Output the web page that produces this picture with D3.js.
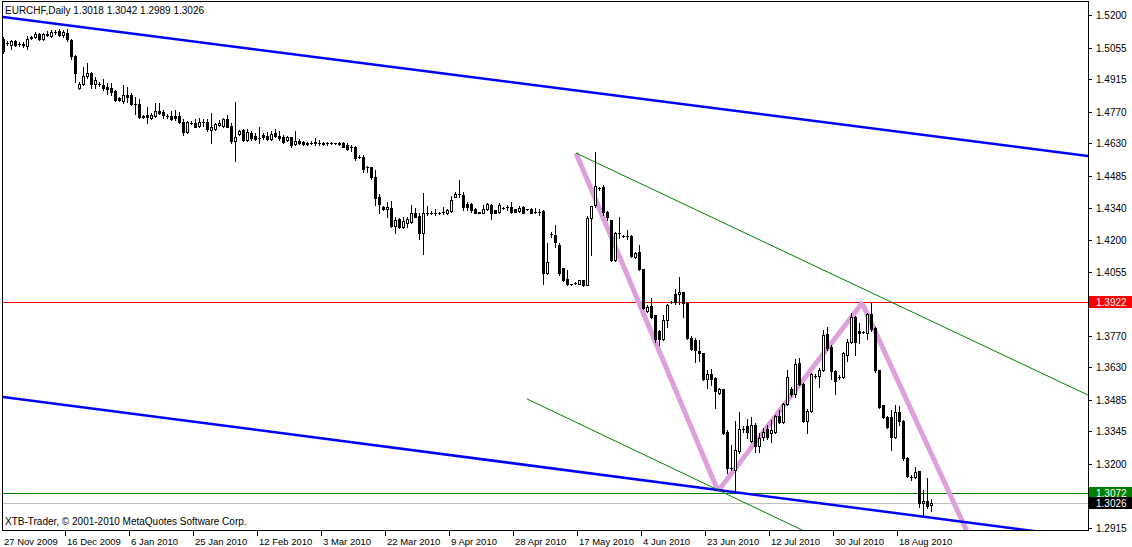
<!DOCTYPE html>
<html><head><meta charset="utf-8">
<script src="https://cdn.jsdelivr.net/npm/d3@7"></script>
<style>
body{margin:0;background:#fff;}
svg{display:block;}
text{font-family:"Liberation Sans",Arial,sans-serif;font-size:10px;}
text.date{font-size:9.5px;}
</style>
</head><body>
<svg id="chart" width="1132" height="547"></svg>
<script>
// ---------------- DATA ----------------
const symbolTitle = "EURCHF,Daily";
const lastBar = [1.3018, 1.3042, 1.2989, 1.3026];
const copyright = "XTB-Trader, \u00A9 2001-2010 MetaQuotes Software Corp.";

const opens = [
1.5093,1.5075,1.5066,1.5084,1.5071,1.5071,1.5062,1.5102,1.5102,1.5115,
1.5093,1.5115,1.5106,1.5124,1.5129,1.5111,1.5120,1.5089,1.5017,1.4875,
1.4893,1.4928,1.4941,1.4893,1.4893,1.4888,1.4879,1.4875,1.4861,1.4830,
1.4817,1.4844,1.4844,1.4804,1.4804,1.4750,1.4754,1.4741,1.4750,1.4772,
1.4768,1.4750,1.4750,1.4750,1.4750,1.4723,1.4679,1.4719,1.4719,1.4705,
1.4723,1.4723,1.4688,1.4692,1.4710,1.4705,1.4737,1.4705,1.4639,1.4670,
1.4688,1.4643,1.4674,1.4661,1.4652,1.4665,1.4661,1.4648,1.4674,1.4661,
1.4657,1.4643,1.4657,1.4625,1.4639,1.4634,1.4630,1.4630,1.4634,1.4630,
1.4630,1.4630,1.4630,1.4630,1.4630,1.4630,1.4621,1.4612,1.4612,1.4567,
1.4567,1.4523,1.4523,1.4478,1.4389,1.4345,1.4336,1.4340,1.4260,1.4292,
1.4256,1.4274,1.4278,1.4318,1.4305,1.4229,1.4318,1.4318,1.4318,1.4318,
1.4323,1.4318,1.4327,1.4389,1.4403,1.4398,1.4358,1.4358,1.4336,1.4323,
1.4318,1.4336,1.4354,1.4331,1.4323,1.4340,1.4345,1.4345,1.4336,1.4327,
1.4345,1.4336,1.4336,1.4323,1.4323,1.4327,1.4051,1.4225,1.4220,1.4175,
1.4073,1.4024,1.4002,1.4006,1.4002,1.4020,1.3997,1.4296,1.4354,1.4429,
1.4434,1.4323,1.4287,1.4109,1.4229,1.4216,1.4216,1.4216,1.4122,1.4144,
1.4069,1.3882,1.3904,1.3864,1.3793,1.3757,1.3842,1.3922,1.3957,1.3957,
1.3966,1.3917,1.3761,1.3752,1.3704,1.3695,1.3579,1.3601,1.3583,1.3516,
1.3534,1.3343,1.3182,1.3173,1.3258,1.3356,1.3369,1.3303,1.3374,1.3280,
1.3320,1.3356,1.3338,1.3343,1.3414,1.3387,1.3467,1.3534,1.3512,1.3650,
1.3556,1.3392,1.3436,1.3592,1.3592,1.3619,1.3779,1.3721,1.3614,1.3588,
1.3588,1.3686,1.3743,1.3855,1.3793,1.3788,1.3784,1.3868,1.3806,1.3619,
1.3463,1.3409,1.3409,1.3320,1.3432,1.3392,1.3227,1.3142,1.3142,1.3169,
1.3027,1.3036,1.3018];

const highs = [
1.5102,1.5084,1.5089,1.5089,1.5080,1.5080,1.5106,1.5106,1.5124,1.5120,
1.5120,1.5129,1.5133,1.5133,1.5138,1.5133,1.5138,1.5093,1.5022,1.4902,
1.4968,1.4986,1.4946,1.4924,1.4902,1.4915,1.4897,1.4897,1.4866,1.4835,
1.4888,1.4879,1.4852,1.4835,1.4826,1.4754,1.4790,1.4763,1.4808,1.4808,
1.4777,1.4759,1.4772,1.4777,1.4768,1.4737,1.4728,1.4728,1.4737,1.4741,
1.4737,1.4737,1.4763,1.4719,1.4732,1.4741,1.4754,1.4719,1.4812,1.4688,
1.4692,1.4692,1.4683,1.4674,1.4701,1.4674,1.4679,1.4683,1.4692,1.4683,
1.4665,1.4661,1.4657,1.4683,1.4648,1.4639,1.4634,1.4639,1.4652,1.4643,
1.4634,1.4634,1.4634,1.4631,1.4634,1.4634,1.4630,1.4621,1.4617,1.4576,
1.4576,1.4527,1.4523,1.4510,1.4403,1.4349,1.4367,1.4372,1.4300,1.4296,
1.4300,1.4300,1.4354,1.4340,1.4318,1.4407,1.4349,1.4327,1.4336,1.4323,
1.4345,1.4336,1.4394,1.4412,1.4465,1.4412,1.4367,1.4363,1.4340,1.4323,
1.4354,1.4363,1.4358,1.4331,1.4363,1.4345,1.4354,1.4367,1.4336,1.4349,
1.4349,1.4336,1.4340,1.4340,1.4336,1.4331,1.4184,1.4233,1.4265,1.4184,
1.4073,1.4064,1.4002,1.4011,1.4020,1.4020,1.4305,1.4349,1.4590,1.4434,
1.4443,1.4327,1.4287,1.4233,1.4300,1.4220,1.4242,1.4220,1.4144,1.4175,
1.4069,1.3909,1.3939,1.3864,1.3797,1.3864,1.3913,1.3926,1.3979,1.4033,
1.3966,1.3922,1.3770,1.3761,1.3752,1.3695,1.3619,1.3623,1.3588,1.3539,
1.3534,1.3352,1.3285,1.3392,1.3432,1.3369,1.3401,1.3409,1.3383,1.3338,
1.3361,1.3374,1.3396,1.3418,1.3441,1.3472,1.3619,1.3543,1.3668,1.3672,
1.3561,1.3445,1.3605,1.3601,1.3628,1.3797,1.3810,1.3730,1.3619,1.3597,
1.3699,1.3757,1.3873,1.3860,1.3828,1.3793,1.3873,1.3922,1.3810,1.3619,
1.3463,1.3414,1.3441,1.3463,1.3458,1.3396,1.3231,1.3151,1.3187,1.3169,
1.3084,1.3138,1.3042];

const lows = [
1.5031,1.5066,1.5049,1.5062,1.5062,1.5057,1.5049,1.5093,1.5098,1.5089,
1.5089,1.5106,1.5102,1.5115,1.5106,1.5102,1.5084,1.5004,1.4902,1.4870,
1.4888,1.4919,1.4875,1.4875,1.4884,1.4866,1.4848,1.4844,1.4817,1.4817,
1.4808,1.4812,1.4799,1.4759,1.4741,1.4741,1.4719,1.4737,1.4746,1.4759,
1.4741,1.4741,1.4732,1.4732,1.4719,1.4665,1.4674,1.4714,1.4701,1.4701,
1.4705,1.4683,1.4630,1.4688,1.4705,1.4701,1.4701,1.4630,1.4550,1.4665,
1.4639,1.4639,1.4643,1.4643,1.4630,1.4648,1.4643,1.4643,1.4657,1.4643,
1.4630,1.4639,1.4612,1.4621,1.4625,1.4621,1.4621,1.4625,1.4621,1.4621,
1.4621,1.4621,1.4625,1.4625,1.4621,1.4612,1.4599,1.4594,1.4554,1.4563,
1.4501,1.4501,1.4470,1.4354,1.4318,1.4331,1.4300,1.4256,1.4229,1.4251,
1.4251,1.4256,1.4274,1.4300,1.4202,1.4136,1.4309,1.4314,1.4309,1.4314,
1.4314,1.4314,1.4323,1.4389,1.4389,1.4331,1.4331,1.4323,1.4318,1.4318,
1.4318,1.4331,1.4292,1.4318,1.4318,1.4336,1.4331,1.4318,1.4323,1.4323,
1.4318,1.4331,1.4318,1.4318,1.4309,1.4002,1.4046,1.4211,1.4167,1.4042,
1.4015,1.3997,1.3997,1.4002,1.4002,1.3993,1.3997,1.4131,1.4345,1.4421,
1.4309,1.4287,1.4104,1.4104,1.4207,1.4211,1.4202,1.4122,1.4118,1.4064,
1.3891,1.3877,1.3851,1.3743,1.3730,1.3752,1.3810,1.3917,1.3913,1.3913,
1.3855,1.3757,1.3708,1.3654,1.3659,1.3574,1.3539,1.3552,1.3450,1.3512,
1.3334,1.3160,1.3173,1.3071,1.3249,1.3343,1.3316,1.3298,1.3253,1.3253,
1.3307,1.3311,1.3298,1.3338,1.3383,1.3383,1.3463,1.3503,1.3499,1.3552,
1.3387,1.3338,1.3432,1.3583,1.3543,1.3614,1.3708,1.3579,1.3512,1.3579,
1.3583,1.3659,1.3739,1.3686,1.3739,1.3784,1.3757,1.3793,1.3610,1.3450,
1.3405,1.3361,1.3262,1.3316,1.3374,1.3218,1.3142,1.3129,1.3138,1.3009,
1.2974,1.3005,1.2989];

const closes = [
1.5040,1.5074,1.5084,1.5066,1.5070,1.5066,1.5093,1.5098,1.5115,1.5093,
1.5115,1.5111,1.5124,1.5123,1.5111,1.5124,1.5093,1.5017,1.4941,1.4893,
1.4928,1.4941,1.4893,1.4910,1.4892,1.4875,1.4870,1.4857,1.4821,1.4821,
1.4844,1.4835,1.4804,1.4803,1.4746,1.4746,1.4746,1.4754,1.4772,1.4763,
1.4754,1.4749,1.4737,1.4741,1.4723,1.4679,1.4723,1.4718,1.4701,1.4723,
1.4722,1.4692,1.4701,1.4714,1.4719,1.4737,1.4701,1.4639,1.4657,1.4683,
1.4643,1.4679,1.4652,1.4648,1.4651,1.4657,1.4648,1.4670,1.4661,1.4652,
1.4634,1.4657,1.4621,1.4639,1.4630,1.4625,1.4625,1.4629,1.4630,1.4629,
1.4625,1.4629,1.4629,1.4629,1.4625,1.4612,1.4603,1.4611,1.4563,1.4566,
1.4514,1.4522,1.4478,1.4385,1.4358,1.4336,1.4345,1.4260,1.4287,1.4256,
1.4283,1.4292,1.4318,1.4300,1.4229,1.4318,1.4317,1.4317,1.4319,1.4317,
1.4322,1.4331,1.4376,1.4403,1.4402,1.4345,1.4345,1.4331,1.4318,1.4318,
1.4336,1.4358,1.4318,1.4318,1.4354,1.4339,1.4344,1.4323,1.4323,1.4340,
1.4318,1.4335,1.4318,1.4322,1.4322,1.4051,1.4100,1.4224,1.4189,1.4051,
1.4020,1.4002,1.4001,1.4005,1.4020,1.3997,1.4296,1.4349,1.4438,1.4428,
1.4323,1.4300,1.4109,1.4229,1.4228,1.4215,1.4215,1.4127,1.4140,1.4069,
1.3895,1.3900,1.3855,1.3757,1.3757,1.3842,1.3909,1.3921,1.3922,1.3966,
1.3917,1.3761,1.3712,1.3708,1.3695,1.3579,1.3601,1.3579,1.3525,1.3534,
1.3338,1.3182,1.3181,1.3262,1.3356,1.3355,1.3343,1.3374,1.3280,1.3316,
1.3343,1.3320,1.3352,1.3414,1.3387,1.3467,1.3588,1.3512,1.3645,1.3556,
1.3392,1.3436,1.3601,1.3591,1.3619,1.3775,1.3717,1.3614,1.3570,1.3587,
1.3695,1.3743,1.3855,1.3743,1.3784,1.3787,1.3868,1.3801,1.3619,1.3454,
1.3409,1.3365,1.3320,1.3432,1.3392,1.3227,1.3147,1.3141,1.3164,1.3027,
1.3036,1.3014,1.3026];

// date labels, placed every 16 bars
const dateLabels = ["27 Nov 2009","16 Dec 2009","6 Jan 2010","25 Jan 2010","12 Feb 2010",
  "3 Mar 2010","22 Mar 2010","9 Apr 2010","28 Apr 2010","17 May 2010","4 Jun 2010",
  "23 Jun 2010","12 Jul 2010","30 Jul 2010","18 Aug 2010"];
const dateLabelBars = [0,16,32,48,64,80,96,112,128,144,160,176,192,208,224];

// price axis ticks
const priceTicks = [1.5200,1.5055,1.4915,1.4770,1.4630,1.4485,1.4340,1.4200,1.4055,
  1.3770,1.3630,1.3485,1.3345,1.3200,1.2915];

// horizontal levels: resistance, support, bid
const levelResistance = 1.3922;
const levelSupport = 1.3072;
const levelBid = 1.3026;

// trend objects: [barIndex, price] endpoints
const channelUpper = [[0, 1.5191], [271.25, 1.4572]];
const channelLower = [[0, 1.3499], [271.25, 1.2870]];
const greenUpper = [[143.25, 1.4585], [271.25, 1.3507]];
const greenLower = [[131, 1.3490], [200, 1.2904]];
const patternLeg1 = [[143.25, 1.4585], [178.75, 1.3080]];
const patternLeg2 = [[178.75, 1.3080], [215, 1.3922]];
const patternLeg3 = [[215, 1.3909], [241.5, 1.2880]];

// ---------------- DRAW ----------------
const W = 1132, H = 547;
const plotL = 2, plotR = 1088, plotT = 1, plotB = 530;
const svg = d3.select("#chart");

const x = d3.scaleLinear().domain([0, 232]).range([3, 931]);
const y = d3.scaleLinear().domain([1.2915, 1.5200]).range([528, 15]);

svg.append("rect").attr("width", W).attr("height", H).attr("fill", "#fff");

svg.append("defs").append("clipPath").attr("id", "plotclip")
  .append("rect").attr("x", plotL + 1).attr("y", plotT + 1)
  .attr("width", plotR - plotL - 1).attr("height", plotB - plotT - 1);

const plot = svg.append("g").attr("clip-path", "url(#plotclip)");

// horizontal levels (behind)
function hline(v, color) {
  const yy = Math.round(y(v)) + 0.5;
  plot.append("line").attr("x1", plotL).attr("x2", plotR).attr("y1", yy).attr("y2", yy)
    .attr("stroke", color).attr("stroke-width", 1).attr("shape-rendering", "crispEdges");
}
hline(levelBid, "#c0c0c0");
hline(levelSupport, "#008000");
hline(levelResistance, "#ff0000");

function seg(pts, color, w) {
  plot.append("line")
    .attr("x1", x(pts[0][0])).attr("y1", y(pts[0][1]))
    .attr("x2", x(pts[1][0])).attr("y2", y(pts[1][1]))
    .attr("stroke", color).attr("stroke-width", w);
}
seg(patternLeg1, "#dda0dd", 5);
seg(patternLeg2, "#dda0dd", 5);
seg(patternLeg3, "#dda0dd", 5);
seg(channelUpper, "#0000ff", 2.5);
seg(channelLower, "#0000ff", 2.5);
seg(greenUpper, "#008000", 1);
seg(greenLower, "#008000", 1);

// candles
const bars = d3.range(opens.length).map(i => ({i, o: opens[i], h: highs[i], l: lows[i], c: closes[i]}));
const cg = plot.append("g").attr("shape-rendering", "crispEdges");
bars.forEach(b => {
  const cx = Math.round(x(b.i));
  const yH = Math.round(y(b.h)), yL = Math.round(y(b.l));
  const yO = Math.round(y(b.o)), yC = Math.round(y(b.c));
  cg.append("rect").attr("x", cx).attr("y", yH).attr("width", 1)
    .attr("height", Math.max(1, yL - yH + 1)).attr("fill", "#000");
  const top = Math.min(yO, yC), bot = Math.max(yO, yC);
  const hgt = Math.max(1, bot - top + 1);
  cg.append("rect").attr("x", cx - 1).attr("y", top).attr("width", 3)
    .attr("height", hgt).attr("fill", "#000");
  if (b.c > b.o && hgt >= 3) {
    cg.append("rect").attr("x", cx).attr("y", top + 1).attr("width", 1)
      .attr("height", hgt - 2).attr("fill", "#fff");
  }
});

// frame
const fr = svg.append("g").attr("shape-rendering", "crispEdges");
fr.append("line").attr("x1", plotL + 0.5).attr("x2", plotL + 0.5).attr("y1", plotT).attr("y2", plotB + 1).attr("stroke", "#000");
fr.append("line").attr("x1", plotR + 0.5).attr("x2", plotR + 0.5).attr("y1", plotT).attr("y2", plotB + 1).attr("stroke", "#000");
fr.append("line").attr("x1", plotL).attr("x2", plotR + 1).attr("y1", plotT + 0.5).attr("y2", plotT + 0.5).attr("stroke", "#000");
fr.append("line").attr("x1", plotL).attr("x2", plotR + 1).attr("y1", plotB + 0.5).attr("y2", plotB + 0.5).attr("stroke", "#000");

// price axis
const ag = svg.append("g");
priceTicks.forEach(p => {
  const yy = Math.round(y(p));
  ag.append("line").attr("x1", plotR).attr("x2", plotR + 4).attr("y1", yy + 0.5).attr("y2", yy + 0.5)
    .attr("stroke", "#000").attr("shape-rendering", "crispEdges");
  ag.append("text").attr("x", plotR + 8).attr("y", yy + 4).attr("fill", "#000").text(p.toFixed(4));
});

// level labels on axis
function levelLabel(v, bg) {
  const yy = Math.round(y(v));
  ag.append("rect").attr("x", plotR + 1).attr("y", yy - 6).attr("width", W - plotR - 1).attr("height", 12)
    .attr("fill", bg).attr("shape-rendering", "crispEdges");
  ag.append("text").attr("x", plotR + 8).attr("y", yy + 4).attr("fill", "#fff").text(v.toFixed(4));
}
levelLabel(levelResistance, "#ff0000");
levelLabel(levelSupport, "#008000");
levelLabel(levelBid, "#000000");

// date axis
dateLabels.forEach((t, k) => {
  const xx = Math.round(x(dateLabelBars[k])) - 2;
  if (xx > plotL) {
    ag.append("line").attr("x1", xx + 0.5).attr("x2", xx + 0.5).attr("y1", plotB).attr("y2", plotB + 6)
      .attr("stroke", "#000").attr("shape-rendering", "crispEdges");
  }
  ag.append("text").attr("class", "date").attr("x", Math.max(xx + 2, 4)).attr("y", plotB + 15)
    .attr("fill", "#000").text(t);
});

// titles
svg.append("text").attr("x", 5).attr("y", 14).attr("fill", "#000")
  .text(symbolTitle + "  " + lastBar.map(v => v.toFixed(4)).join(" "));
svg.append("text").attr("x", 5).attr("y", 525).attr("fill", "#000").text(copyright);
</script>
</body></html>
